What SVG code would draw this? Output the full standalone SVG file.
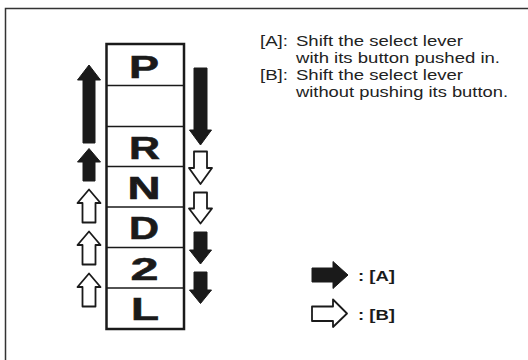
<svg xmlns="http://www.w3.org/2000/svg" width="528" height="360" viewBox="0 0 528 360">
<style>
.frame{fill:none;stroke:#333;stroke-width:1.5}
.box{fill:none;stroke:#1a1a1a;stroke-width:2.5}
.div{stroke:#1a1a1a;stroke-width:1.6}
.gear{font-family:"Liberation Sans",Arial,sans-serif;font-weight:bold;font-size:32px;fill:#1a1a1a;stroke:#1a1a1a;stroke-width:0.6}
.fa{fill:#1a1a1a;stroke:#1a1a1a;stroke-width:1;stroke-linejoin:round}
.oa{fill:#fff;stroke:#1a1a1a;stroke-width:1.8;stroke-linejoin:round}
.note{font-family:"Liberation Sans",Arial,sans-serif;font-size:15px;fill:#222}
.leg{font-family:"Liberation Sans",Arial,sans-serif;font-size:15px;font-weight:bold;fill:#1a1a1a}
</style>
<rect class="frame" x="5.5" y="8.5" width="540" height="370"/>
<g id="lever">
<rect class="box" x="106.5" y="44" width="77.5" height="285"/>
<line class="div" x1="106.5" y1="85.5" x2="184" y2="85.5"/>
<line class="div" x1="106.5" y1="126.5" x2="184" y2="126.5"/>
<line class="div" x1="106.5" y1="166.5" x2="184" y2="166.5"/>
<line class="div" x1="106.5" y1="207" x2="184" y2="207"/>
<line class="div" x1="106.5" y1="247.5" x2="184" y2="247.5"/>
<line class="div" x1="106.5" y1="288" x2="184" y2="288"/>
<text class="gear" x="129" y="78" textLength="30" lengthAdjust="spacingAndGlyphs">P</text>
<text class="gear" x="129" y="158.5" textLength="31" lengthAdjust="spacingAndGlyphs">R</text>
<text class="gear" x="127.5" y="199" textLength="33" lengthAdjust="spacingAndGlyphs">N</text>
<text class="gear" x="129" y="239" textLength="30" lengthAdjust="spacingAndGlyphs">D</text>
<text class="gear" x="130.5" y="280" textLength="28" lengthAdjust="spacingAndGlyphs">2</text>
<text class="gear" x="131" y="320" textLength="28" lengthAdjust="spacingAndGlyphs">L</text>
</g>
<g id="arrows">
<polygon class="fa" points="89,65 100.5,80 95,80 95,143 83,143 83,80 77.5,80"/>
<polygon class="fa" points="89,148.5 100.5,162 95,162 95,181 83,181 83,162 77.5,162"/>
<polygon class="oa" points="89,189.5 100.5,203 95.5,203 95.5,222.5 82.5,222.5 82.5,203 77.5,203"/>
<polygon class="oa" points="89,231.5 100.5,245 95.5,245 95.5,264.5 82.5,264.5 82.5,245 77.5,245"/>
<polygon class="oa" points="89,273.5 100.5,287 95.5,287 95.5,306.5 82.5,306.5 82.5,287 77.5,287"/>
<polygon class="fa" points="194,68 207,68 207,130 211.5,130 200.5,145 189.5,130 194,130"/>
<polygon class="oa" points="194,151.5 207,151.5 207,168 212,168 200.5,184 189,168 194,168"/>
<polygon class="oa" points="194,192.5 207,192.5 207,208.5 212,208.5 200.5,223.5 189,208.5 194,208.5"/>
<polygon class="fa" points="194,232 207,232 207,250 211.5,250 200.5,264 189.5,250 194,250"/>
<polygon class="fa" points="194,272 207,272 207,290 211.5,290 200.5,303.5 189.5,290 194,290"/>
</g>
<g id="notes">
<text class="note" x="260" y="45.5" textLength="28" lengthAdjust="spacingAndGlyphs">[A]:</text>
<text class="note" x="296" y="45.5" textLength="167" lengthAdjust="spacingAndGlyphs">Shift the select lever</text>
<text class="note" x="296" y="62.5" textLength="204" lengthAdjust="spacingAndGlyphs">with its button pushed in.</text>
<text class="note" x="260" y="79.5" textLength="28" lengthAdjust="spacingAndGlyphs">[B]:</text>
<text class="note" x="296" y="79.5" textLength="167" lengthAdjust="spacingAndGlyphs">Shift the select lever</text>
<text class="note" x="296" y="96.5" textLength="212" lengthAdjust="spacingAndGlyphs">without pushing its button.</text>
</g>
<g id="legend">
<polygon class="fa" points="312,268 333,268 333,261.5 348,275 333,288.5 333,282 312,282"/>
<polygon class="oa" points="312,306.5 333,306.5 333,299.5 347,313.5 333,327 333,321 312,321"/>
<text class="leg" x="358" y="281" textLength="37" lengthAdjust="spacingAndGlyphs">: [A]</text>
<text class="leg" x="358" y="319.5" textLength="37" lengthAdjust="spacingAndGlyphs">: [B]</text>
</g>
</svg>
